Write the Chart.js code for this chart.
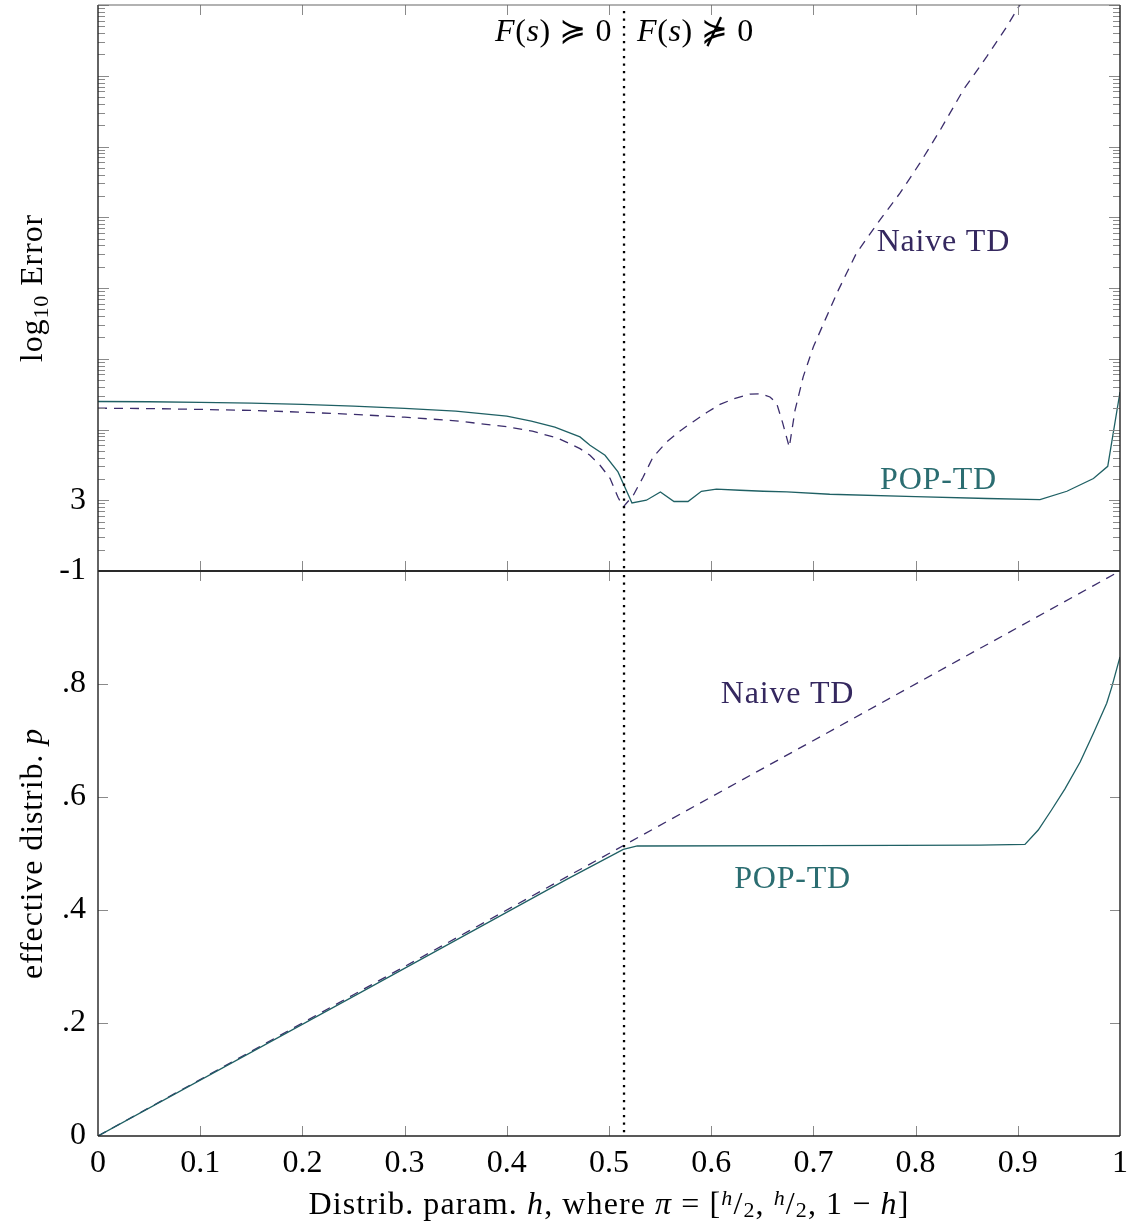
<!DOCTYPE html>
<html><head><meta charset="utf-8">
<script src="https://cdn.jsdelivr.net/npm/chart.js@4/dist/chart.umd.min.js"></script>
<style>
html,body{margin:0;padding:0;background:#fff;}
body{width:1130px;height:1224px;position:relative;overflow:hidden;}
canvas{position:absolute;left:0;}
#cTop{top:0;}
#cBot{top:566px;}
</style></head>
<body>
<canvas id="cTop" width="1130" height="600"></canvas>
<canvas id="cBot" width="1130" height="658"></canvas>
<script>
// ---------- data ----------
// top panel: log10 error (axis units = decades)
const hTopNaive = [0, 0.05, 0.1, 0.15, 0.2, 0.25, 0.3, 0.35, 0.4, 0.425, 0.45, 0.4716, 0.4814, 0.4912, 0.501, 0.5088, 0.514, 0.5238, 0.5333, 0.543, 0.5565, 0.5695, 0.582, 0.5956, 0.6086, 0.6213, 0.638, 0.6494, 0.6575, 0.664, 0.670, 0.6764, 0.682, 0.690, 0.700, 0.7114, 0.7244, 0.742, 0.765, 0.7847, 0.804, 0.824, 0.8467, 0.8696, 0.889, 0.9015, 0.95, 1.0];
const eTopNaive = [1.301, 1.296, 1.284, 1.269, 1.245, 1.214, 1.174, 1.123, 1.039, 0.976, 0.877, 0.73, 0.636, 0.495, 0.311, 0.042, -0.095, 0.071, 0.325, 0.608, 0.825, 0.98, 1.107, 1.24, 1.354, 1.43, 1.50, 1.503, 1.46, 1.372, 1.09, 0.75, 1.27, 1.744, 2.17, 2.546, 2.97, 3.49, 3.96, 4.34, 4.76, 5.23, 5.80, 6.27, 6.69, 6.99, 7.7, 8.4];
const hTopPop = [0, 0.05, 0.1, 0.15, 0.2, 0.25, 0.3, 0.35, 0.4, 0.424, 0.447, 0.4716, 0.4814, 0.4961, 0.5088, 0.5225, 0.5366, 0.5503, 0.5636, 0.5773, 0.5904, 0.6051, 0.628, 0.651, 0.674, 0.716, 0.8, 0.87, 0.9217, 0.948, 0.974, 0.988, 1.0];
const eTopPop = [1.396, 1.392, 1.383, 1.372, 1.354, 1.33, 1.298, 1.259, 1.188, 1.117, 1.033, 0.895, 0.778, 0.636, 0.40, -0.038, 0.0, 0.117, -0.018, -0.018, 0.127, 0.156, 0.141, 0.127, 0.117, 0.085, 0.05, 0.025, 0.01, 0.127, 0.307, 0.48, 1.53];
// bottom panel: effective distribution p
const hBotNaive = [0, 0.25, 0.5, 0.75, 1.0];
const pBotNaive = [0, 0.25, 0.5, 0.75, 1.0];
const hBotPop = [0, 0.25, 0.4586, 0.514, 0.5277, 0.7, 0.863, 0.907, 0.920, 0.933, 0.946, 0.961, 0.974, 0.987, 0.992, 1.0];
const pBotPop = [0, 0.247, 0.4543, 0.5074, 0.5133, 0.514, 0.515, 0.516, 0.5416, 0.577, 0.614, 0.662, 0.713, 0.766, 0.795, 0.848];
// threshold
const hThreshold = 0.5147;
// tick labels
const xTickVals = [0, 0.1, 0.2, 0.3, 0.4, 0.5, 0.6, 0.7, 0.8, 0.9, 1];
const xTickText = ['0', '0.1', '0.2', '0.3', '0.4', '0.5', '0.6', '0.7', '0.8', '0.9', '1'];
const topTickVals = [-1, 0];
const topTickText = ['-1', '3'];
const botTickVals = [0, 0.2, 0.4, 0.6, 0.8];
const botTickText = ['0', '.2', '.4', '.6', '.8'];
const seriesNames = ['Naive TD', 'POP-TD'];

// ---------- styling ----------
const FAM = '"Liberation Serif", "DejaVu Serif", "DejaVu Sans", serif';
const FS = 32;
const C_POP = '#1f6064', C_POP_TXT = '#2b6d71';
const C_NAIVE = '#3b2d6c', C_NAIVE_TXT = '#35285f';
Chart.defaults.font.family = FAM;
Chart.defaults.font.size = FS;
Chart.defaults.color = '#000';

function fnt(size, it) { return (it ? 'italic ' : '') + size + 'px ' + FAM; }
function drawRich(ctx, segs, x, y, align, color, spacing) {
  ctx.letterSpacing = (spacing === undefined ? 0.8 : spacing) + 'px';
  let w = 0;
  for (const g of segs) { ctx.font = fnt(g.s || FS, g.it); g.w = ctx.measureText(g.t).width; w += g.w; }
  let cx = align === 'center' ? x - w / 2 : align === 'right' ? x - w : x;
  ctx.textAlign = 'left'; ctx.textBaseline = 'alphabetic'; ctx.fillStyle = color || '#000';
  for (const g of segs) { ctx.font = fnt(g.s || FS, g.it); ctx.fillText(g.t, cx, y + (g.dy || 0)); cx += g.w; }
  ctx.letterSpacing = '0px';
}
function pts(xs, ys) { return xs.map((x, i) => ({ x: x, y: ys[i] })); }
function lookup(vals, text) {
  return v => { const i = vals.findIndex(t => Math.abs(t - v) < 1e-7); return i >= 0 ? text[i] : ''; };
}

function framePlugin(isTop) {
  return {
    id: 'frame' + (isTop ? 'T' : 'B'),
    afterDatasetsDraw(chart) {
      const ctx = chart.ctx, a = chart.chartArea, xs = chart.scales.x, ys = chart.scales.y;
      ctx.save();
      // dotted threshold line
      const xt = xs.getPixelForValue(hThreshold);
      ctx.strokeStyle = '#000'; ctx.lineWidth = 2.3; ctx.setLineDash([2.3, 5.2]);
      ctx.beginPath(); ctx.moveTo(xt, isTop ? a.top + 6 : a.top + 4); ctx.lineTo(xt, a.bottom); ctx.stroke();
      ctx.setLineDash([]);
      // ticks
      ctx.strokeStyle = '#8a8a8a'; ctx.lineWidth = 1;
      const hline = (y, x0, x1) => { ctx.beginPath(); ctx.moveTo(x0, Math.round(y) + 0.5); ctx.lineTo(x1, Math.round(y) + 0.5); ctx.stroke(); };
      const vline = (x, y0, y1) => { ctx.beginPath(); ctx.moveTo(Math.round(x) + 0.5, y0); ctx.lineTo(Math.round(x) + 0.5, y1); ctx.stroke(); };
      for (let i = 1; i < xTickVals.length - 1; i++) {
        const x = xs.getPixelForValue(xTickVals[i]);
        vline(x, a.top, a.top + 10); vline(x, a.bottom - 10, a.bottom);
      }
      if (isTop) {
        for (let d = -1; d <= 7; d++) {
          const y = ys.getPixelForValue(d);
          hline(y, a.left, a.left + 11); hline(y, a.right - 11, a.right);
          if (d < 7) for (let k = 2; k <= 9; k++) {
            const ym = ys.getPixelForValue(d + Math.log10(k));
            hline(ym, a.left, a.left + 7); hline(ym, a.right - 7, a.right);
          }
        }
      } else {
        for (const v of [0.2, 0.4, 0.6, 0.8]) {
          const y = ys.getPixelForValue(v);
          hline(y, a.left, a.left + 10); hline(y, a.right - 10, a.right);
        }
      }
      // frame
      ctx.strokeStyle = '#222'; ctx.lineWidth = 1.4;
      ctx.beginPath(); ctx.moveTo(a.left, a.top); ctx.lineTo(a.left, a.bottom); ctx.stroke();
      ctx.beginPath(); ctx.moveTo(a.right, a.top); ctx.lineTo(a.right, a.bottom); ctx.stroke();
      if (isTop) {
        ctx.strokeStyle = '#666'; ctx.lineWidth = 1.2;
        ctx.beginPath(); ctx.moveTo(a.left, a.top); ctx.lineTo(a.right, a.top); ctx.stroke();
        ctx.strokeStyle = '#2a2a2a'; ctx.lineWidth = 2;
        ctx.beginPath(); ctx.moveTo(a.left, a.bottom); ctx.lineTo(a.right, a.bottom); ctx.stroke();
      } else {
        ctx.strokeStyle = '#2a2a2a'; ctx.lineWidth = 2;
        ctx.beginPath(); ctx.moveTo(a.left, a.top); ctx.lineTo(a.right, a.top); ctx.stroke();
        ctx.strokeStyle = '#222'; ctx.lineWidth = 1.4;
        ctx.beginPath(); ctx.moveTo(a.left, a.bottom); ctx.lineTo(a.right, a.bottom); ctx.stroke();
      }
      // annotations
      if (isTop) {
        drawRich(ctx, [{ t: 'F', it: 1 }, { t: '(' }, { t: 's', it: 1 }, { t: ')' }, { t: ' \u227D ' }, { t: '0' }], xt - 12, 41, 'right', '#000', 0.6);
        drawRich(ctx, [{ t: 'F', it: 1 }, { t: '(' }, { t: 's', it: 1 }, { t: ')' }, { t: ' \u22E1 ' }, { t: '0' }], xt + 13, 41, 'left', '#000', 0.6);
        drawRich(ctx, [{ t: seriesNames[0] }], xs.getPixelForValue(0.8272), ys.getPixelForValue(3.68) + 11, 'center', C_NAIVE_TXT);
        drawRich(ctx, [{ t: seriesNames[1] }], xs.getPixelForValue(0.8224), ys.getPixelForValue(0.31) + 11, 'center', C_POP_TXT);
        // y title
        ctx.translate(42, (a.top + a.bottom) / 2); ctx.rotate(-Math.PI / 2);
        drawRich(ctx, [{ t: 'log' }, { t: '10', s: 22, dy: 6 }, { t: ' Error' }], 0, 0, 'center', '#000', 0.9);
      } else {
        drawRich(ctx, [{ t: seriesNames[0] }], xs.getPixelForValue(0.6747), ys.getPixelForValue(0.786) + 11, 'center', C_NAIVE_TXT);
        drawRich(ctx, [{ t: seriesNames[1] }], xs.getPixelForValue(0.6796), ys.getPixelForValue(0.458) + 11, 'center', C_POP_TXT);
        // x title
        const frac = [{ t: 'h', it: 1, s: 22, dy: -9 }, { t: '/' }, { t: '2', s: 22, dy: 3 }];
        drawRich(ctx, [{ t: 'Distrib. param. ' }, { t: 'h', it: 1 }, { t: ', where ' }, { t: '\u03C0', it: 1 }, { t: ' = [' }]
          .concat(frac.map(o => Object.assign({}, o))).concat([{ t: ', ' }]).concat(frac.map(o => Object.assign({}, o)))
          .concat([{ t: ', 1 \u2212 ' }, { t: 'h', it: 1 }, { t: ']' }]), (a.left + a.right) / 2, 648, 'center', '#000', 1.1);
        // y title
        ctx.translate(42, (a.top + a.bottom) / 2); ctx.rotate(-Math.PI / 2);
        drawRich(ctx, [{ t: 'effective distrib. ' }, { t: 'p', it: 1 }], 0, 0, 'center', '#000', 0.9);
      }
      ctx.restore();
    }
  };
}

const lineDs = (label, data, color, dashed) => ({
  label: label, data: data, borderColor: color, borderWidth: 1.3, pointRadius: 0,
  tension: 0, fill: false, borderDash: dashed ? [9, 7] : []
});

new Chart(document.getElementById('cTop'), {
  type: 'line',
  data: { datasets: [
    lineDs(seriesNames[1], pts(hTopPop, eTopPop), C_POP, false),
    lineDs(seriesNames[0], pts(hTopNaive, eTopNaive), C_NAIVE, true)
  ] },
  options: {
    responsive: false, animation: false, events: [],
    layout: { padding: { left: 0, right: 10, top: 5, bottom: 29 } },
    plugins: { legend: { display: false }, tooltip: { enabled: false } },
    scales: {
      x: { type: 'linear', min: 0, max: 1, display: false },
      y: {
        type: 'linear', min: -1, max: 7,
        afterFit(s) { s.width = 98; s.paddingTop = 0; s.paddingBottom = 0; },
        grid: { display: false, drawTicks: false }, border: { display: false },
        ticks: { stepSize: 1, autoSkip: false, padding: 12, color: '#000', font: { size: FS }, callback: lookup(topTickVals, topTickText) }
      }
    }
  },
  plugins: [framePlugin(true)]
});

new Chart(document.getElementById('cBot'), {
  type: 'line',
  data: { datasets: [
    lineDs(seriesNames[1], pts(hBotPop, pBotPop), C_POP, false),
    lineDs(seriesNames[0], pts(hBotNaive, pBotNaive), C_NAIVE, true)
  ] },
  options: {
    responsive: false, animation: false, events: [],
    layout: { padding: { left: 0, right: 10, top: 5, bottom: 0 } },
    plugins: { legend: { display: false }, tooltip: { enabled: false } },
    scales: {
      x: {
        type: 'linear', min: 0, max: 1,
        afterFit(s) { s.height = 88; s.paddingLeft = 0; s.paddingRight = 0; },
        grid: { display: false, drawTicks: false }, border: { display: false },
        ticks: { stepSize: 0.1, autoSkip: false, maxRotation: 0, padding: 8, color: '#000', font: { size: FS }, callback: lookup(xTickVals, xTickText) }
      },
      y: {
        type: 'linear', min: 0, max: 1,
        afterFit(s) { s.width = 98; s.paddingTop = 0; s.paddingBottom = 0; },
        grid: { display: false, drawTicks: false }, border: { display: false },
        ticks: { stepSize: 0.2, autoSkip: false, padding: 12, color: '#000', font: { size: FS }, callback: lookup(botTickVals, botTickText) }
      }
    }
  },
  plugins: [framePlugin(false)]
});
</script>
</body></html>
